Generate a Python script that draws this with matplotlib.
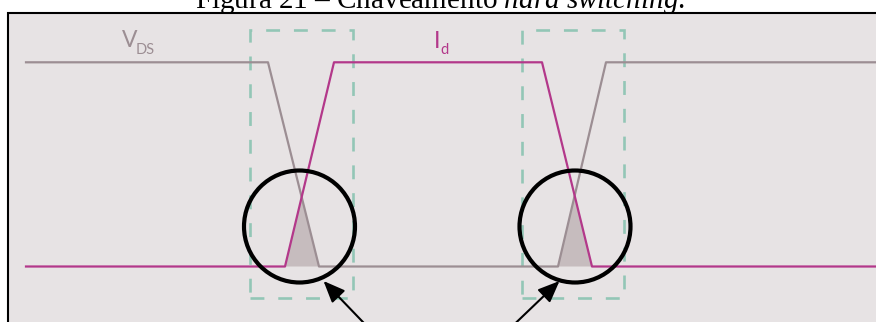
import numpy as np
import matplotlib
matplotlib.use("Agg")
import matplotlib.pyplot as plt
from matplotlib.patches import Rectangle, Ellipse

# waveform breakpoints (time in px units, level 0 = off, 1 = on)
vds_t = [26, 268, 319, 558, 606, 876]
vds_level = [1, 1, 0, 0, 1, 1]
id_t = [26, 285, 334, 542, 592, 876]
id_level = [0, 0, 1, 1, 0, 0]

# switching windows (dashed boxes) and loss circles
box_t0 = [250, 521.7]
box_t1 = [353.3, 624.3]
circle_t = [299.5, 575]

title_txt = r"Figura 21 – Chaveamento $\mathit{hard\ switching}$."

VDS_COLOR = "#9c8e93"
ID_COLOR = "#b3388a"
BG = "#e7e3e4"
BOX_COLOR = "#93c6b6"
LOSS_COLOR = "#c6bcbe"

plt.rcParams["mathtext.fontset"] = "custom"
plt.rcParams["mathtext.rm"] = "Liberation Serif"
plt.rcParams["mathtext.it"] = "Liberation Serif:italic"
plt.rcParams["lines.scale_dashes"] = False

W, H = 876, 322
LOW_PX, HIGH_PX = 266.5, 62.3
unit = LOW_PX - HIGH_PX


def lv(ypx):
    # pixel row -> level units
    return (LOW_PX - ypx) / unit


fig = plt.figure(figsize=(W / 100, H / 100), dpi=100)
ax = fig.add_axes([0, 0, 1, 1])
ax.set_xlim(0, W)
ax.set_ylim(lv(H), lv(0))
ax.axis("off")

# frame with background
ax.add_patch(Rectangle((8, lv(400)), 1000, lv(12.5) - lv(400), facecolor=BG,
                       edgecolor="black", lw=1.5, zorder=0))

# conduction loss area = overlap of the two waveforms
t = np.linspace(0, W, 4000)
v = np.interp(t, vds_t, vds_level)
i = np.interp(t, id_t, id_level)
loss = np.minimum(v, i)
ax.fill_between(t, 0, loss, where=loss > 0.001, color=LOSS_COLOR, lw=0, zorder=1)

# dashed switching boxes
for a, b in zip(box_t0, box_t1):
    r = Rectangle((a, lv(298)), b - a, lv(30) - lv(298), fill=False,
                  edgecolor=BOX_COLOR, lw=1.9, zorder=2)
    r.set_linestyle((0, (10, 10)))
    ax.add_patch(r)

ax.plot(vds_t, vds_level, color=VDS_COLOR, lw=1.6, zorder=3)
ax.plot(id_t, id_level, color=ID_COLOR, lw=1.6, zorder=3)

# circles highlighting the losses
for c in circle_t:
    ax.add_patch(Ellipse((c, lv(226.5)), 111, 112 / unit, fill=False,
                         edgecolor="black", lw=3, zorder=4))

# arrows coming from the caption below
ax.annotate("", xy=(323.5, lv(281)), xytext=(385, lv(345)),
            arrowprops=dict(arrowstyle="-|>,head_length=0.6,head_width=0.25",
                            mutation_scale=22, lw=1.5, color="black",
                            shrinkA=0, shrinkB=0), zorder=5)
ax.annotate("", xy=(559.5, lv(281)), xytext=(492.7, lv(345)),
            arrowprops=dict(arrowstyle="-|>,head_length=0.6,head_width=0.25",
                            mutation_scale=22, lw=1.5, color="black",
                            shrinkA=0, shrinkB=0), zorder=5)

# labels
ax.text(122, lv(46.7), "V", fontsize=16.5, family="Lato", color=VDS_COLOR,
        va="baseline", ha="left")
ax.text(136, lv(54), "DS", fontsize=10.5, family="Lato", color=VDS_COLOR,
        va="baseline", ha="left")
ax.text(434, lv(48), "I", fontsize=16.5, family="Lato", color=ID_COLOR,
        va="baseline", ha="left")
ax.text(440.5, lv(54), "d", fontsize=10.5, family="Lato", color=ID_COLOR,
        va="baseline", ha="left")

ax.text(440, lv(8.5), title_txt, fontsize=21, family="Liberation Serif",
        ha="center", va="baseline", color="black")

fig.savefig("out.png", dpi=100, facecolor="white")
